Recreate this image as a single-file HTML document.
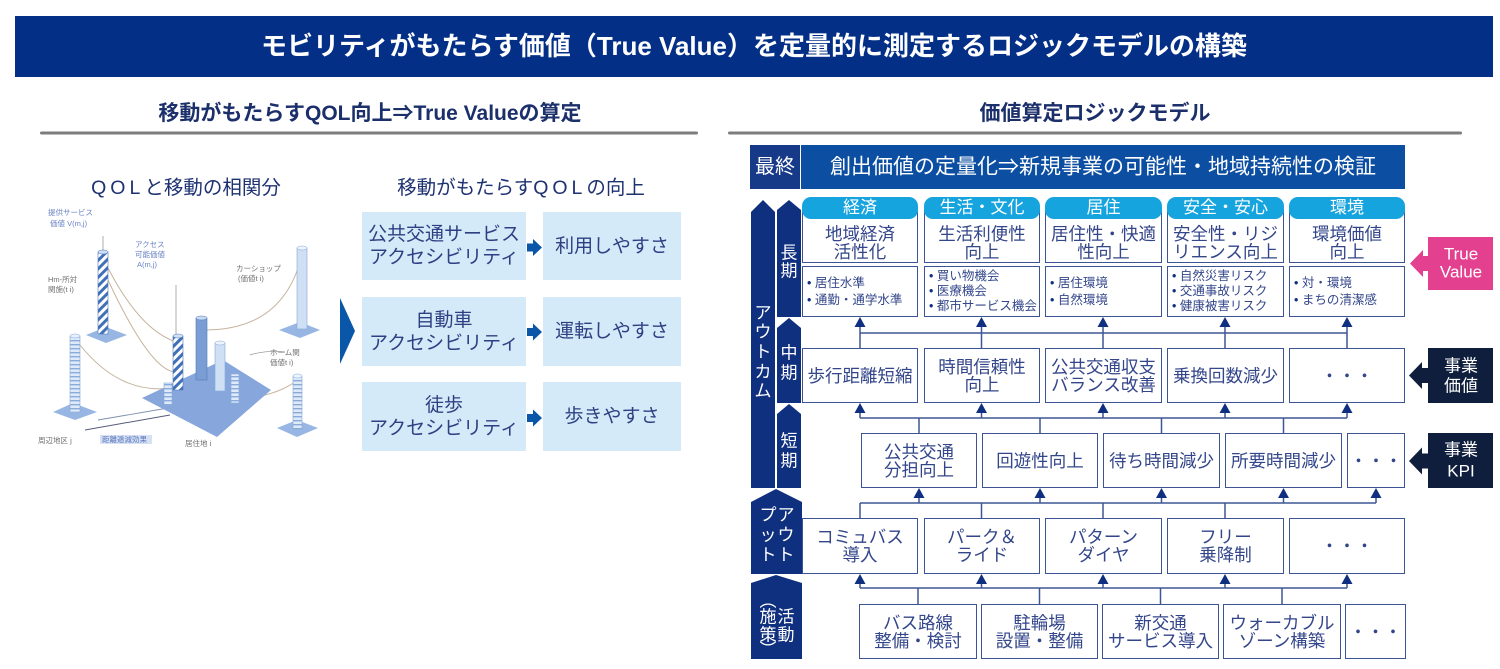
<!DOCTYPE html>
<html><head><meta charset="utf-8">
<style>
*{margin:0;padding:0;box-sizing:border-box}
body{width:1500px;height:669px;overflow:hidden;background:#fff;position:relative;font-family:"Liberation Sans","Noto Sans CJK JP",sans-serif;}
.hd{position:absolute;left:15px;top:16px;width:1478px;height:61px;background:#032f86;color:#fff;font-weight:bold;font-size:26px;line-height:61px;text-align:center;white-space:nowrap}
.st{position:absolute;top:100px;height:28px;line-height:28px;font-weight:bold;font-size:21px;color:#1b2f6b;text-align:center;white-space:nowrap}
.t2{position:absolute;color:#1e3272;font-size:19.5px;line-height:24px;white-space:nowrap;text-align:center}
.lb{position:absolute;background:#d5eaf8;color:#2e4083;font-size:19px;line-height:23px;display:flex;align-items:center;justify-content:center;text-align:center;white-space:nowrap}
.bx{position:absolute;border:1.6px solid #3c5493;background:#fff;display:flex;align-items:center;justify-content:center;text-align:center;color:#33468a;font-size:17.5px;line-height:18px;white-space:nowrap}
.tab{position:absolute;height:22px;top:197px;width:116px;background:#16a4df;border-radius:9px;color:#fff;font-size:17px;line-height:22px;text-align:center;white-space:nowrap}
.bl{position:absolute;top:266px;height:51px;width:116px;background:#fff;border:1.6px solid #3c5493;color:#33468a;font-size:12.5px;line-height:15px;padding-left:4px;display:flex;flex-direction:column;justify-content:center;white-space:nowrap}
.bl span::before{content:"• ";color:#0f2f80}
svg{position:absolute;left:0;top:0}
</style></head>
<body>
<svg width="1500" height="669" viewBox="0 0 1500 669">
<defs>
<pattern id="dst" patternUnits="userSpaceOnUse" width="6" height="6" patternTransform="rotate(45)"><rect width="6" height="6" fill="#fff"/><rect width="3" height="6" fill="#3f70b8"/></pattern>
<pattern id="hst" patternUnits="userSpaceOnUse" width="4" height="4"><rect width="4" height="4" fill="#dfeaf8"/><rect width="4" height="1.4" fill="#8aaad9"/></pattern>
</defs>
<!-- gray rules -->
<rect x="40" y="131.5" width="658" height="3" rx="1.5" fill="#7d7d7d"/>
<rect x="728" y="131.5" width="734" height="3" rx="1.5" fill="#7d7d7d"/>

<!-- illustration -->
<g>
<path d="M108,268 Q140,330 176,342" stroke="#c6b39c" stroke-width="1" fill="none"/>
<path d="M80,345 Q120,395 172,388" stroke="#c6b39c" stroke-width="1" fill="none"/>
<path d="M300,262 Q280,330 205,330" stroke="#c6b39c" stroke-width="1" fill="none"/>
<path d="M108,280 Q150,370 175,372" stroke="#c6b39c" stroke-width="1" fill="none"/>
<path d="M298,380 Q270,400 230,398" stroke="#c6b39c" stroke-width="1" fill="none"/>
<path d="M98,420 L168,408" stroke="#7f8fae" stroke-width="0.9" fill="none"/>
<path d="M85,430 L170,415" stroke="#555c7a" stroke-width="1" fill="none"/>
<path d="M250,355 Q265,350 285,352" stroke="#8a8a8a" stroke-width="0.7" fill="none"/>
<path d="M176,285 L176,336" stroke="#8a8a8a" stroke-width="0.7"/>
<path d="M103,236 L103,252" stroke="#8a8a8a" stroke-width="0.7"/>
<polygon points="142,398 223,360 271,390 217,437" fill="#87a7dc"/>
<polygon points="86,335 106,327 127,335 106,343" fill="#97b6e3"/>
<polygon points="53,412 73,403 97,412 75,420" fill="#97b6e3"/>
<polygon points="279,330 300,322 320,330 300,338" fill="#97b6e3"/>
<polygon points="277,428 297,420 318,428 297,437" fill="#97b6e3"/>
<rect x="98" y="252" width="10" height="82" fill="url(#dst)" stroke="#4f79bb" stroke-width="0.6"/>
<ellipse cx="103" cy="252" rx="5" ry="2" fill="#cfe0f5" stroke="#4f79bb" stroke-width="0.5"/>
<rect x="70" y="336" width="10" height="76" fill="url(#hst)" stroke="#86a8da" stroke-width="0.6"/>
<ellipse cx="75" cy="336" rx="5" ry="2" fill="#e6effa" stroke="#86a8da" stroke-width="0.5"/>
<rect x="196" y="318" width="11" height="62" fill="#7a9ed4" stroke="#4f79bb" stroke-width="0.6"/>
<ellipse cx="201.5" cy="318" rx="5.5" ry="2" fill="#c9dbf3" stroke="#4f79bb" stroke-width="0.5"/>
<rect x="215" y="343" width="10" height="48" fill="#cfdff4" stroke="#86a8da" stroke-width="0.6"/>
<ellipse cx="220" cy="343" rx="5" ry="2" fill="#eef4fc" stroke="#86a8da" stroke-width="0.5"/>
<rect x="173" y="336" width="10" height="54" fill="url(#dst)" stroke="#4f79bb" stroke-width="0.6"/>
<ellipse cx="178" cy="336" rx="5" ry="2" fill="#cfe0f5" stroke="#4f79bb" stroke-width="0.5"/>
<rect x="297" y="248" width="10" height="81" fill="#cfdff4" stroke="#86a8da" stroke-width="0.6"/>
<ellipse cx="302" cy="248" rx="5" ry="2" fill="#eef4fc" stroke="#86a8da" stroke-width="0.5"/>
<rect x="231" y="374" width="8" height="29" fill="url(#hst)" stroke="#86a8da" stroke-width="0.6"/>
<rect x="293" y="376" width="9" height="53" fill="url(#hst)" stroke="#86a8da" stroke-width="0.6"/>
<ellipse cx="297.5" cy="376" rx="4.5" ry="2" fill="#eef4fc" stroke="#86a8da" stroke-width="0.5"/>
<rect x="164" y="383" width="8" height="22" fill="url(#hst)" stroke="#86a8da" stroke-width="0.6"/>
<g font-size="7.5" fill="#707070">
<text x="48" y="215" fill="#6a82c4">提供サービス</text>
<text x="50" y="226" fill="#6a82c4">価値 V(m,j)</text>
<text x="48" y="282">Hm-所対</text>
<text x="48" y="292">関施(t i)</text>
<text x="135" y="247" fill="#6a82c4">アクセス</text>
<text x="135" y="257" fill="#6a82c4">可能価値</text>
<text x="137" y="267" fill="#6a82c4">A(m,j)</text>
<text x="236" y="271">カーショップ</text>
<text x="238" y="281">(価値t i)</text>
<text x="270" y="355">ホーム関</text>
<text x="270" y="365">価値t i)</text>
<text x="38" y="443">周辺地区 j</text>
<text x="185" y="446">居住地 i</text>
</g>
<rect x="100" y="435" width="52" height="9" fill="#d6e2f4"/>
<text x="102" y="442" font-size="7.5" fill="#5d78bd">距離逓減効果</text>
</g>

<!-- left chevron and small arrows -->
<polygon points="340,298 355,331 340,364" fill="#0a56a8"/>
<g fill="#0a56a8">
<rect x="527" y="243.5" width="7" height="8"/><polygon points="533,239 542,247.5 533,256"/>
<rect x="527" y="328" width="7" height="8"/><polygon points="533,323.5 542,332 533,340.5"/>
<rect x="527" y="414" width="7" height="8"/><polygon points="533,409.5 542,418 533,426.5"/>
</g>

<!-- 最終 bar -->
<rect x="750" y="145" width="50" height="44" fill="#173a88"/>
<rect x="801" y="145" width="604" height="44" fill="#0c4fa2"/>
<text x="775" y="167" font-size="20" fill="#fff" text-anchor="middle" dominant-baseline="central">最終</text>
<text x="1103" y="167" font-size="21" fill="#fff" text-anchor="middle" dominant-baseline="central">創出価値の定量化⇒新規事業の可能性・地域持続性の検証</text>

<!-- pillars -->
<g fill="#0f2f7f">
<polygon points="751,212 763,200 775,212 775,488 751,488"/>
<polygon points="777,210 789,200 801,210 801,317 777,317"/>
<polygon points="777,328 789,318 801,328 801,403 777,403"/>
<polygon points="777,414 789,404 801,414 801,488 777,488"/>
<polygon points="751,502 776,489 802,502 802,574 751,574"/>
<polygon points="751,583 776,575 802,583 802,659 751,659"/>
</g>
<g font-size="17" fill="#fff" text-anchor="middle" dominant-baseline="central">
<text x="789" y="253">長</text><text x="789" y="271">期</text>
<text x="763" y="313">ア</text><text x="763" y="332">ウ</text><text x="763" y="352">ト</text><text x="763" y="372">カ</text><text x="763" y="391">ム</text>
<text x="789" y="353">中</text><text x="789" y="373">期</text>
<text x="789" y="441">短</text><text x="789" y="461">期</text>
<text x="768" y="515">プ</text><text x="786" y="515">ア</text>
<text x="768" y="535">ッ</text><text x="786" y="535">ウ</text>
<text x="768" y="555">ト</text><text x="786" y="555">ト</text>
<text x="768" y="601">︵</text>
<text x="768" y="617">施</text><text x="786" y="617">活</text>
<text x="768" y="635">策</text><text x="786" y="635">動</text>
<text x="768" y="650">︶</text>
</g>

<!-- connectors -->
<g stroke="#3d5694" stroke-width="1.5" fill="none">
<path d="M860,333H1347 M860,326V348 M981.5,326V348 M1103,326V348 M1225,326V348 M1347,326V348"/>
<path d="M860,418H1347 M860,412V418 M981.5,412V418 M1103,412V418 M1225,412V418 M1347,412V418 M919,418V433 M1040,418V433 M1161.5,418V433 M1283.5,418V433"/>
<path d="M860,503H1376 M919,497V503 M1040,497V503 M1161.5,497V503 M1283.5,497V503 M1376,497V503 M860,503V518 M981.5,503V518 M1103,503V518 M1225,503V518"/>
<path d="M860,588H1347 M860,583V588 M981.5,583V588 M1103,583V588 M1225,583V588 M1347,583V588 M918,588V604 M1039.5,588V604 M1160.5,588V604 M1282,588V604"/>
</g>
<g fill="#0f2f80">
<polygon points="860,317 854.5,327 865.5,327"/><polygon points="981.5,317 976,327 987,327"/><polygon points="1103,317 1097.5,327 1108.5,327"/><polygon points="1225,317 1219.5,327 1230.5,327"/><polygon points="1347,317 1341.5,327 1352.5,327"/>
<polygon points="860,403 854.5,413 865.5,413"/><polygon points="981.5,403 976,413 987,413"/><polygon points="1103,403 1097.5,413 1108.5,413"/><polygon points="1225,403 1219.5,413 1230.5,413"/><polygon points="1347,403 1341.5,413 1352.5,413"/>
<polygon points="919,488 913.5,498 924.5,498"/><polygon points="1040,488 1034.5,498 1045.5,498"/><polygon points="1161.5,488 1156,498 1167,498"/><polygon points="1283.5,488 1278,498 1289,498"/><polygon points="1376,488 1370.5,498 1381.5,498"/>
<polygon points="860,574 854.5,584 865.5,584"/><polygon points="981.5,574 976,584 987,584"/><polygon points="1103,574 1097.5,584 1108.5,584"/><polygon points="1225,574 1219.5,584 1230.5,584"/><polygon points="1347,574 1341.5,584 1352.5,584"/>
</g>

<!-- right tags -->
<g fill="#e3418f">
<rect x="1428" y="237" width="65" height="53"/>
<polygon points="1410,263.5 1423,250 1423,256 1429,256 1429,271 1423,271 1423,277"/>
</g>
<g fill="#0e1e3c">
<rect x="1428" y="348" width="65" height="55"/>
<polygon points="1409,375.5 1422,362 1422,368 1429,368 1429,383 1422,383 1422,389"/>
<rect x="1428" y="433" width="65" height="55"/>
<polygon points="1409,461 1422,447.5 1422,453.5 1429,453.5 1429,468.5 1422,468.5 1422,474.5"/>
</g>
<g font-size="17" fill="#fff" text-anchor="middle" dominant-baseline="central">
<text x="1461" y="254">True</text><text x="1461" y="272">Value</text>
<text x="1461" y="366">事業</text><text x="1461" y="386">価値</text>
<text x="1461" y="450">事業</text><text x="1461" y="471">KPI</text>
</g>
</svg>

<div class="hd">モビリティがもたらす価値（True Value）を定量的に測定するロジックモデルの構築</div>
<div class="st" style="left:120px;width:500px">移動がもたらすQOL向上⇒True Valueの算定</div>
<div class="st" style="left:895px;width:400px">価値算定ロジックモデル</div>

<div class="t2" style="left:36px;width:300px;top:176px"><span style="letter-spacing:4px">QOL</span>と移動の相関分</div>
<div class="t2" style="left:371px;width:300px;top:176px">移動がもたらす<span style="letter-spacing:4px">QOL</span>の向上</div>

<div class="lb" style="left:362px;top:212px;width:164px;height:68px">公共交通サービス<br>アクセシビリティ</div>
<div class="lb" style="left:543px;top:212px;width:138px;height:68px">利用しやすさ</div>
<div class="lb" style="left:362px;top:297px;width:164px;height:69px">自動車<br>アクセシビリティ</div>
<div class="lb" style="left:543px;top:297px;width:138px;height:69px">運転しやすさ</div>
<div class="lb" style="left:362px;top:382px;width:164px;height:69px">徒歩<br>アクセシビリティ</div>
<div class="lb" style="left:543px;top:382px;width:138px;height:69px">歩きやすさ</div>

<!-- long-term -->
<div class="bx" style="left:802px;top:208px;width:116px;height:55px;padding-top:15px">地域経済<br>活性化</div>
<div class="bx" style="left:924px;top:208px;width:116px;height:55px;padding-top:15px">生活利便性<br>向上</div>
<div class="bx" style="left:1045px;top:208px;width:117px;height:55px;padding-top:15px">居住性・快適<br>性向上</div>
<div class="bx" style="left:1167px;top:208px;width:117px;height:55px;padding-top:15px">安全性・リジ<br>リエンス向上</div>
<div class="bx" style="left:1289px;top:208px;width:116px;height:55px;padding-top:15px">環境価値<br>向上</div>
<div class="tab" style="left:802px">経済</div>
<div class="tab" style="left:924px">生活・文化</div>
<div class="tab" style="left:1045px;width:117px">居住</div>
<div class="tab" style="left:1167px;width:117px">安全・安心</div>
<div class="tab" style="left:1289px">環境</div>

<div class="bl" style="left:802px;line-height:16.5px"><span>居住水準</span><span>通勤・通学水準</span></div>
<div class="bl" style="left:924px"><span>買い物機会</span><span>医療機会</span><span>都市サービス機会</span></div>
<div class="bl" style="left:1045px;width:117px;line-height:16.5px"><span>居住環境</span><span>自然環境</span></div>
<div class="bl" style="left:1167px;width:117px"><span>自然災害リスク</span><span>交通事故リスク</span><span>健康被害リスク</span></div>
<div class="bl" style="left:1289px;line-height:16.5px"><span>対・環境</span><span>まちの清潔感</span></div>

<!-- mid-term -->
<div class="bx" style="left:802px;top:348px;width:116px;height:55px">歩行距離短縮</div>
<div class="bx" style="left:924px;top:348px;width:116px;height:55px">時間信頼性<br>向上</div>
<div class="bx" style="left:1045px;top:348px;width:117px;height:55px">公共交通収支<br>バランス改善</div>
<div class="bx" style="left:1167px;top:348px;width:117px;height:55px">乗換回数減少</div>
<div class="bx" style="left:1289px;top:348px;width:116px;height:55px">・・・</div>

<!-- short-term -->
<div class="bx" style="left:861px;top:433px;width:116px;height:55px">公共交通<br>分担向上</div>
<div class="bx" style="left:982px;top:433px;width:116px;height:55px">回遊性向上</div>
<div class="bx" style="left:1103px;top:433px;width:117px;height:55px">待ち時間減少</div>
<div class="bx" style="left:1225px;top:433px;width:117px;height:55px">所要時間減少</div>
<div class="bx" style="left:1347px;top:433px;width:58px;height:55px">・・・</div>

<!-- output -->
<div class="bx" style="left:802px;top:518px;width:116px;height:56px">コミュバス<br>導入</div>
<div class="bx" style="left:924px;top:518px;width:116px;height:56px">パーク＆<br>ライド</div>
<div class="bx" style="left:1045px;top:518px;width:117px;height:56px">パターン<br>ダイヤ</div>
<div class="bx" style="left:1167px;top:518px;width:117px;height:56px">フリー<br>乗降制</div>
<div class="bx" style="left:1289px;top:518px;width:116px;height:56px">・・・</div>

<!-- activity -->
<div class="bx" style="left:859px;top:604px;width:118px;height:55px">バス路線<br>整備・検討</div>
<div class="bx" style="left:981px;top:604px;width:117px;height:55px">駐輪場<br>設置・整備</div>
<div class="bx" style="left:1102px;top:604px;width:117px;height:55px">新交通<br>サービス導入</div>
<div class="bx" style="left:1223px;top:604px;width:118px;height:55px">ウォーカブル<br>ゾーン構築</div>
<div class="bx" style="left:1345px;top:604px;width:61px;height:55px">・・・</div>
</body></html>
